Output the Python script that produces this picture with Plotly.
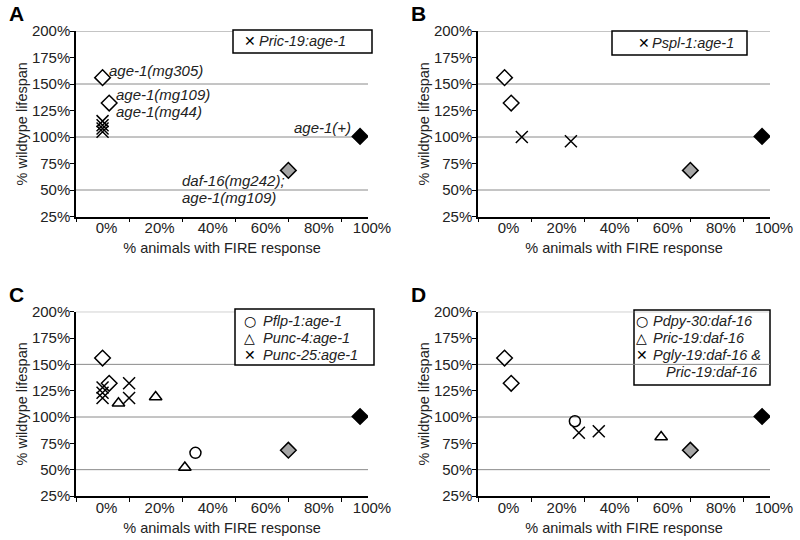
import plotly.graph_objects as go

# ---------------- data ----------------
# reference strains (same in all four panels)
OPEN_DIAMOND_X = [0, 2.5]          # age-1(mg305), age-1(mg109)/age-1(mg44)
OPEN_DIAMOND_Y = [156, 132]
GRAY_DIAMOND_X = [70]              # daf-16(mg242); age-1(mg109)
GRAY_DIAMOND_Y = [68.5]
BLACK_DIAMOND_X = [97]             # age-1(+)
BLACK_DIAMOND_Y = [100.5]

# Panel A
A_RIC19_X = [0, 0, 0, 0]
A_RIC19_Y = [115, 111, 108, 105]
# Panel B
B_SPL1_X = [6.5, 25]
B_SPL1_Y = [100, 96]
# Panel C
C_FLP1_X = [35]
C_FLP1_Y = [66]
C_UNC4_X = [6, 20, 31]
C_UNC4_Y = [113, 119, 52]
C_UNC25_X = [0, 0, 0, 10, 10]
C_UNC25_Y = [128, 123, 118, 132, 118]
# Panel D
D_DPY30_X = [26.5]
D_DPY30_Y = [96]
D_RIC19_X = [59]
D_RIC19_Y = [81]
D_GLY19_X = [28, 35.5]
D_GLY19_Y = [85, 86.5]

X_TICKS = [0, 20, 40, 60, 80, 100]
X_TICK_LABELS = ["0%", "20%", "40%", "60%", "80%", "100%"]
Y_TICKS = [25, 50, 75, 100, 125, 150, 175, 200]
Y_TICK_LABELS = ["25%", "50%", "75%", "100%", "125%", "150%", "175%", "200%"]
GRID_Y = [50, 100, 150, 200]

# legend entries per panel: (symbol glyph, label)
LEG_A = [("\u2715", "Pric-19:age-1")]
LEG_B = [("\u2715", "Pspl-1:age-1")]
LEG_C = [("\u25cb", "Pflp-1:age-1"), ("\u25b3", "Punc-4:age-1"), ("\u2715", "Punc-25:age-1")]
LEG_D = [("\u25cb", "Pdpy-30:daf-16"), ("\u25b3", "Pric-19:daf-16"),
         ("\u2715", "Pgly-19:daf-16 &"), ("", "Pric-19:daf-16")]

FONT = "Liberation Sans, Arial, sans-serif"
TXT = "#222"

fig = go.Figure()
W, H = 800, 540

panels = {
    "A": dict(xd=[76/W, 368/W], yd=[1-216.5/H, 1-31/H], xa="x", ya="y"),
    "B": dict(xd=[478/W, 770/W], yd=[1-216.5/H, 1-31/H], xa="x2", ya="y2"),
    "C": dict(xd=[76/W, 368/W], yd=[1-496/H, 1-311.7/H], xa="x3", ya="y3"),
    "D": dict(xd=[478/W, 770/W], yd=[1-496/H, 1-311.7/H], xa="x4", ya="y4"),
}

def add_refs(p):
    for xs, ys, col in ((OPEN_DIAMOND_X, OPEN_DIAMOND_Y, "white"),
                        (GRAY_DIAMOND_X, GRAY_DIAMOND_Y, "#a6a6a6"),
                        (BLACK_DIAMOND_X, BLACK_DIAMOND_Y, "black")):
        fig.add_trace(go.Scatter(x=xs, y=ys, mode="markers",
            marker=dict(symbol="diamond", size=12, color=col, line=dict(color="black", width=1.5)),
            xaxis=p["xa"], yaxis=p["ya"], showlegend=False))

def add_series(p, xs, ys, symbol, name, size=11):
    fig.add_trace(go.Scatter(x=xs, y=ys, mode="markers", name=name, showlegend=False,
        marker=dict(symbol=symbol, size=size, color="black", line=dict(color="black", width=1.5)),
        xaxis=p["xa"], yaxis=p["ya"]))

pA, pB, pC, pD = panels["A"], panels["B"], panels["C"], panels["D"]
for p in (pA, pB, pC, pD):
    add_refs(p)

add_series(pA, A_RIC19_X, A_RIC19_Y, "x-thin-open", "Pric-19:age-1", 12)
add_series(pB, B_SPL1_X, B_SPL1_Y, "x-thin-open", "Pspl-1:age-1", 12)
add_series(pC, C_FLP1_X, C_FLP1_Y, "circle-open", "Pflp-1:age-1", 11)
add_series(pC, C_UNC4_X, C_UNC4_Y, "triangle-up-open", "Punc-4:age-1", 11)
add_series(pC, C_UNC25_X, C_UNC25_Y, "x-thin-open", "Punc-25:age-1", 12)
add_series(pD, D_DPY30_X, D_DPY30_Y, "circle-open", "Pdpy-30:daf-16", 11)
add_series(pD, D_RIC19_X, D_RIC19_Y, "triangle-up-open", "Pric-19:daf-16", 11)
add_series(pD, D_GLY19_X, D_GLY19_Y, "x-thin-open", "Pgly-19:daf-16 & Pric-19:daf-16", 12)

layout = dict(
    width=W, height=H, margin=dict(l=0, r=0, t=0, b=0),
    paper_bgcolor="white", plot_bgcolor="white", showlegend=False,
    font=dict(family=FONT, size=14, color=TXT),
)

for i, (key, p) in enumerate(panels.items()):
    sfx = "" if i == 0 else str(i + 1)
    layout["xaxis" + sfx] = dict(
        domain=p["xd"], anchor=p["ya"], range=[-10, 100], automargin=False,
        tickvals=X_TICKS, ticktext=X_TICK_LABELS, ticks="", ticklabelshift=4,
        ticklabelstandoff=-3,
        showgrid=False, zeroline=False, showline=True, linecolor="black", linewidth=1.5,
        minor=dict(ticks="outside", tick0=-10, dtick=20, ticklen=4, tickcolor="black", showgrid=False),
        tickfont=dict(size=15, color=TXT),
        title=dict(text="% animals with FIRE response", font=dict(size=14.5, color=TXT), standoff=8),
    )
    layout["yaxis" + sfx] = dict(
        domain=p["yd"], anchor=p["xa"], range=[25, 200], automargin=False,
        tickvals=Y_TICKS, ticktext=Y_TICK_LABELS, ticks="outside", ticklen=4, tickcolor="black",
        ticklabelstandoff=-3,
        showgrid=False, zeroline=False, showline=True, linecolor="black", linewidth=1.5,
        tickfont=dict(size=15, color=TXT),
        title=dict(text="% wildtype lifespan", font=dict(size=14.5, color=TXT), standoff=1),
    )
    fig.add_annotation(text="<b>%s</b>" % key, xref="paper", yref="paper",
                       x=(p["xd"][0] * W - 69) / W, y=p["yd"][1] + 17.5 / H,
                       xanchor="left", yanchor="middle", showarrow=False,
                       font=dict(size=21, color="black"))

def grid(p):
    for g in GRID_Y:
        fig.add_shape(type="line", xref=p["xa"] + " domain", yref=p["ya"],
                      x0=0, x1=1, y0=g, y1=g, layer="below",
                      line=dict(color="#8a8a8a", width=1))

def legend_box(entries, box, sym_x, txt_x, y0, dy, indent=13):
    x0, y_top, x1, y_bot = box
    fig.add_shape(type="rect", xref="paper", yref="paper",
                  x0=x0 / W, x1=x1 / W, y0=1 - y_bot / H, y1=1 - y_top / H,
                  layer="below", fillcolor="white", line=dict(color="black", width=1.5))
    for k, (sym, lab) in enumerate(entries):
        yy = 1 - (y0 + k * dy) / H
        if sym:
            fig.add_annotation(text=sym, xref="paper", yref="paper", x=sym_x / W, y=yy,
                               xanchor="center", yanchor="middle", showarrow=False,
                               font=dict(family="DejaVu Sans", size=14, color="black"))
        tx = txt_x if sym else txt_x + indent
        fig.add_annotation(text="<i>%s</i>" % lab, xref="paper", yref="paper", x=tx / W, y=yy,
                           xanchor="left", yanchor="middle", showarrow=False,
                           font=dict(size=14.5, color=TXT))

# A, B, C: gridlines under the legend box; D: gridline crosses the box
grid(pA)
legend_box(LEG_A, (233, 30, 372, 53), 250, 257, 41.5, 17)
grid(pB)
legend_box(LEG_B, (612, 31, 747, 55), 644, 650, 43, 17)
grid(pC)
legend_box(LEG_C, (235, 309, 374, 365), 249.5, 261, 320.5, 17.3)
legend_box(LEG_D, (634, 310, 770, 385), 641.7, 651, 320.5, 17.3, indent=13)
grid(pD)

fig.update_layout(**layout)

# strain labels in panel A
labels_A = [
    ("<i>age-1(mg305)</i>", 1.5, 163, "left"),
    ("<i>age-1(mg109)</i>", 4.5, 140, "left"),
    ("<i>age-1(mg44)</i>", 4.5, 124.5, "left"),
    ("<i>age-1(+)</i>", 94.5, 108.5, "right"),
    ("<i>daf-16(mg242);</i>", 29, 59, "left"),
    ("<i>age-1(mg109)</i>", 29, 43, "left"),
]
for txt, lx, ly, anc in labels_A:
    fig.add_annotation(text=txt, x=lx, y=ly, xref="x", yref="y", xanchor=anc,
                       yanchor="middle", showarrow=False, font=dict(size=15, color=TXT))

fig.write_html("out.html", config={"displayModeBar": False},
               post_script="document.body.style.margin='0px';")
